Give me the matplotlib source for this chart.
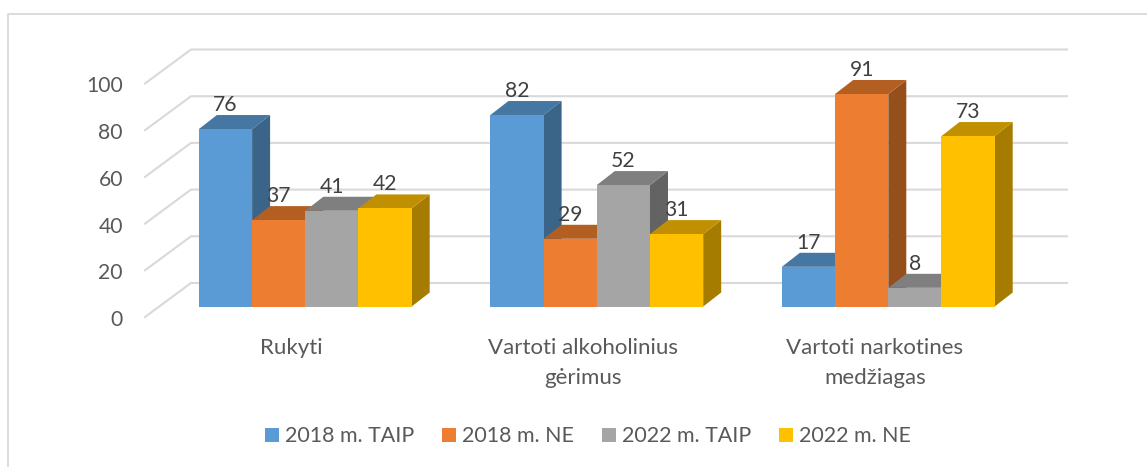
import matplotlib
matplotlib.use("Agg")
import matplotlib.pyplot as plt
from matplotlib.lines import Line2D
from matplotlib.patches import Patch, Polygon

plt.rcParams['font.family'] = ['Lato', 'DejaVu Sans']

categories = ["Rukyti", "Vartoti alkoholinius\ngėrimus", "Vartoti narkotines\nmedžiagas"]
series_names = ["2018 m. TAIP", "2018 m. NE", "2022 m. TAIP", "2022 m. NE"]
values_2018_taip = [76, 82, 17]
values_2018_ne = [37, 29, 91]
values_2022_taip = [41, 52, 8]
values_2022_ne = [42, 31, 73]
series_values = [values_2018_taip, values_2018_ne, values_2022_taip, values_2022_ne]
y_ticks = [0, 20, 40, 60, 80, 100]

front_colors = ["#5B9BD5", "#ED7D31", "#A5A5A5", "#FFC000"]
top_colors = ["#4676A2", "#B45F22", "#7F7F7F", "#C09000"]
side_colors = ["#3A6488", "#954F1C", "#636363", "#A67C00"]

W, H = 1147, 467
PX_X = 291.5      # pixels per category step
PX_Y = 2.335      # pixels per value unit
X0 = 305.3        # pixel of first group centre
Y0 = 306.5        # pixel of value 0 on the bars' front plane
bar_w = 53.2 / PX_X
depth_x = 18 / PX_X
depth_y = 14 / PX_Y

fig = plt.figure(figsize=(W / 100, H / 100), dpi=100)
ax = fig.add_axes([0, 0, 1, 1])
ax.set_xlim(-X0 / PX_X, (W - X0) / PX_X)
ax.set_ylim(-(H - Y0) / PX_Y, Y0 / PX_Y)
ax.axis("off")

frame = "#D9D9D9"
fig.add_artist(Line2D([8 / W, 8 / W, 1], [0, 1 - 14 / H, 1 - 14 / H], color=frame, lw=1.3))

wall_left_front = (145 - X0) / PX_X
wall_left_back = (191 - X0) / PX_X
wall_right = (1067 - X0) / PX_X
off_front = -10.5 / PX_Y
off_back = 23.5 / PX_Y
for t in y_ticks:
    ax.plot([wall_left_front, wall_left_back, wall_right],
            [t + off_front, t + off_back, t + off_back],
            color=frame, lw=1.5, solid_joinstyle="miter", zorder=1)
    ax.text((123 - X0) / PX_X, t + off_front - 3 / PX_Y, str(t), ha="right", va="center",
            fontsize=15.2, color="#595959")

n = len(series_values)
z = 2
for g in range(len(categories)):
    for s in range(n):
        v = series_values[s][g]
        x0 = g + (s - n / 2) * bar_w
        x1 = x0 + bar_w
        ax.add_patch(Polygon([(x1, 0), (x1 + depth_x, depth_y), (x1 + depth_x, v + depth_y), (x1, v)],
                             facecolor=side_colors[s], edgecolor="none", zorder=z))
        ax.add_patch(Polygon([(x0, v), (x0 + depth_x, v + depth_y), (x1 + depth_x, v + depth_y), (x1, v)],
                             facecolor=top_colors[s], edgecolor="none", zorder=z))
        ax.add_patch(Polygon([(x0, 0), (x0, v), (x1, v), (x1, 0)],
                             facecolor=front_colors[s], edgecolor="none", zorder=z))
        z += 1

for g in range(len(categories)):
    for s in range(n):
        v = series_values[s][g]
        xc = g + (s - n / 2 + 0.5) * bar_w
        ax.text(xc, v + depth_y + 10 / PX_Y, str(v), ha="center", va="center",
                fontsize=15.2, color="#404040", zorder=50)

for g, c in enumerate(categories):
    ax.text(g - 13.5 / PX_X, -(347 - 9 - Y0) / PX_Y, c, ha="center", va="top",
            fontsize=16, color="#595959", linespacing=1.6)

handles = [Patch(facecolor=c, edgecolor="none", label=l) for c, l in zip(front_colors, series_names)]
ax.legend(handles=handles, loc="center", bbox_to_anchor=(588 / W, 1 - 436.5 / H),
          bbox_transform=fig.transFigure, ncol=4, frameon=False, fontsize=15.4,
          labelcolor="#595959", handlelength=0.65, handleheight=0.65,
          handletextpad=0.28, columnspacing=1.3, borderpad=0, borderaxespad=0)

fig.savefig("out.png", dpi=100)
